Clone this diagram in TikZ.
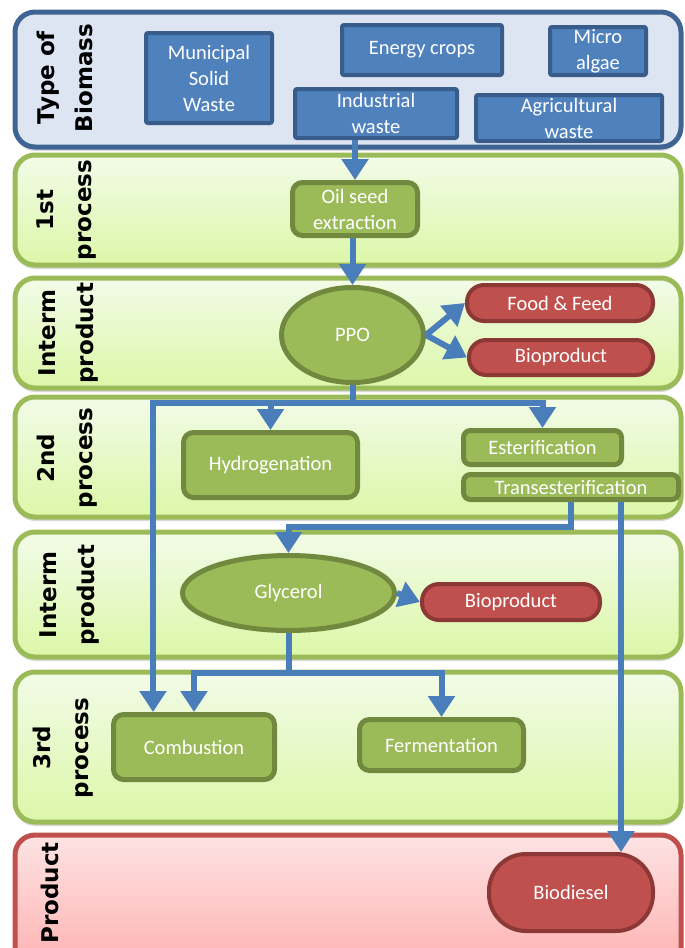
\documentclass[tikz,border=0pt]{standalone}
\usepackage{fontspec}
\usepackage{xcolor}
\usepackage{tikz}
\usetikzlibrary{positioning,arrows.meta,shapes.geometric,shadows}

\newfontfamily\boxfont{Carlito}
\newfontfamily\lanefont{DejaVu Sans}

\definecolor{laneblue}{HTML}{DCE5F1}
\definecolor{lanebluedraw}{HTML}{3E6493}
\definecolor{lanegreendraw}{HTML}{9BBB59}
\definecolor{lanegreentop}{HTML}{F2FBE8}
\definecolor{lanegreenbot}{HTML}{DCF7A8}
\definecolor{laneredtop}{HTML}{FDE3E3}
\definecolor{laneredbot}{HTML}{FFAFAF}
\definecolor{lanereddraw}{HTML}{C0504D}
\definecolor{boxblue}{HTML}{4F81BD}
\definecolor{boxbluedraw}{HTML}{385D8A}
\definecolor{boxgreen}{HTML}{9BBB59}
\definecolor{boxgreendraw}{HTML}{71893F}
\definecolor{boxred}{HTML}{C0504D}
\definecolor{boxreddraw}{HTML}{8C3836}
\definecolor{flowblue}{HTML}{4A7EBB}

\tikzset{
	lane/.style={line width=5pt, rounded corners=20pt,
		drop shadow={shadow xshift=0pt, shadow yshift=-4pt, opacity=0.3}},
	greenlane/.style={lane, draw=lanegreendraw, top color=lanegreentop, bottom color=lanegreenbot},
	bluelane/.style={lane, draw=lanebluedraw, fill=laneblue},
	redlane/.style={lane, draw=lanereddraw, top color=laneredtop, bottom color=laneredbot},
	lanelabel/.style={rotate=90, align=center, inner sep=0pt,
		font=\lanefont\bfseries\fontsize{23}{38}\selectfont},
	box/.style={align=center, inner sep=0pt, text=white,
		font=\boxfont\fontsize{20.5}{26}\selectfont},
	bluebox/.style={box, draw=boxbluedraw, fill=boxblue, line width=4pt, rounded corners=2pt},
	greenbox/.style={box, draw=boxgreendraw, fill=boxgreen, line width=5pt, rounded corners=10pt},
	greenoval/.style={box, ellipse, draw=boxgreendraw, fill=boxgreen, line width=5pt},
	redcap/.style={box, draw=boxreddraw, fill=boxred, line width=4pt, rounded corners=#1},
	flow/.style={draw=flowblue, line width=6pt, -{Triangle[length=21pt,width=26pt]}}
}

\begin{document}
\begin{tikzpicture}[x=1pt, y=-1pt]
	\useasboundingbox (0,0) rectangle (685,948);
	\clip (0,0) rectangle (685,948);

	\draw[bluelane] (15,12) rectangle (681,147);
	\draw[greenlane] (15,155) rectangle (681,265);
	\draw[greenlane] (15,278) rectangle (681,388);
	\draw[greenlane] (15,397) rectangle (681,517);
	\draw[greenlane] (15,532) rectangle (681,657);
	\draw[greenlane] (15,672) rectangle (681,822);
	\draw[redlane] (15,835) rectangle (681,975);

	\node[lanelabel] (biomass) at (65,78) {Type of\\Biomass};
	\node[lanelabel] (first) at (67,210) {1st\\process};
	\node[lanelabel] (interm) at (69,333) {Interm\\product};
	\node[lanelabel] (second) at (67,458) {2nd\\process};
	\node[lanelabel] (intermb) at (70,595) {Interm\\product};
	\node[lanelabel] (third) at (63,748) {3rd\\process};
	\node[lanelabel] (product) at (50,893) {Product};

	\node[bluebox, minimum width=126pt, minimum height=90pt] (msw) at (209,78) {Municipal\\Solid\\Waste};
	\node[bluebox, minimum width=160pt, minimum height=50pt] (crops) at (422,50) {Energy crops};
	\node[bluebox, minimum width=96pt, minimum height=48pt] (algae) at (598,51) {Micro\\algae};
	\node[bluebox, minimum width=162pt, minimum height=49pt] (indus) at (376,113.5) {Industrial\\waste};
	\node[bluebox, minimum width=186pt, minimum height=46pt] (agri) at (569,118) {Agricultural\\waste};

	\node[greenbox, minimum width=125pt, minimum height=53pt] (oil) at (355,209) {Oil seed\\extraction};
	\node[greenoval, minimum width=142pt, minimum height=95pt] (ppo) at (352.5,335) {PPO};
	\node[redcap=17pt, minimum width=186pt, minimum height=36pt] (food) at (560,303) {Food \& Feed};
	\node[redcap=17pt, minimum width=184pt, minimum height=35pt] (bioa) at (561,357.5) {Bioproduct};

	\node[greenbox, minimum width=174pt, minimum height=65pt] (hydro) at (270.5,465) {Hydrogenation};
	\node[greenbox, rounded corners=7pt, minimum width=158pt, minimum height=34pt] (ester) at (542.5,447.5) {Esterification};
	\node[greenbox, rounded corners=7pt, minimum width=215pt, minimum height=25pt] (trans) at (571,487) {Transesterification};

	\node[greenoval, minimum width=212pt, minimum height=75pt] (glyc) at (288.5,593) {Glycerol};
	\node[redcap=17pt, minimum width=178pt, minimum height=36pt] (biob) at (511,602) {Bioproduct};

	\node[greenbox, minimum width=161pt, minimum height=65pt] (comb) at (194,747) {Combustion};
	\node[greenbox, minimum width=164pt, minimum height=51pt] (ferm) at (441.5,745) {Fermentation};

	\node[redcap=37pt, minimum width=164pt, minimum height=77pt] (diesel) at (571,892.5) {Biodiesel};

	\coordinate (bus) at (352.5,403);
	\coordinate (drop) at (153,403);
	\coordinate (tap) at (621,502);
	\coordinate (gsplit) at (288.5,673);

	\draw[flow] (oil.north |- indus.south) -- (oil.north);
	\draw[flow] (ppo.north |- oil.south) -- (ppo.north);
	\draw[flow] (ppo.east) -- (food.west);
	\draw[flow] (ppo.east) -- (bioa.west);
	\draw[flow] (ppo.south) -- (bus) -| (hydro.north);
	\draw[flow] (bus) -| (ester.north);
	\draw[flow] (bus) -- (drop) -- (drop |- comb.north);
	\draw[flow] (trans.south) -- ++(0,25) -| (glyc.north);
	\draw[flow] (tap) -- (tap |- diesel.north);
	\draw[flow] (glyc.east) -- (biob.west);
	\draw[flow] (glyc.south) -- (gsplit) -| (comb.north);
	\draw[flow] (gsplit) -| (ferm.north);
\end{tikzpicture}
\end{document}
